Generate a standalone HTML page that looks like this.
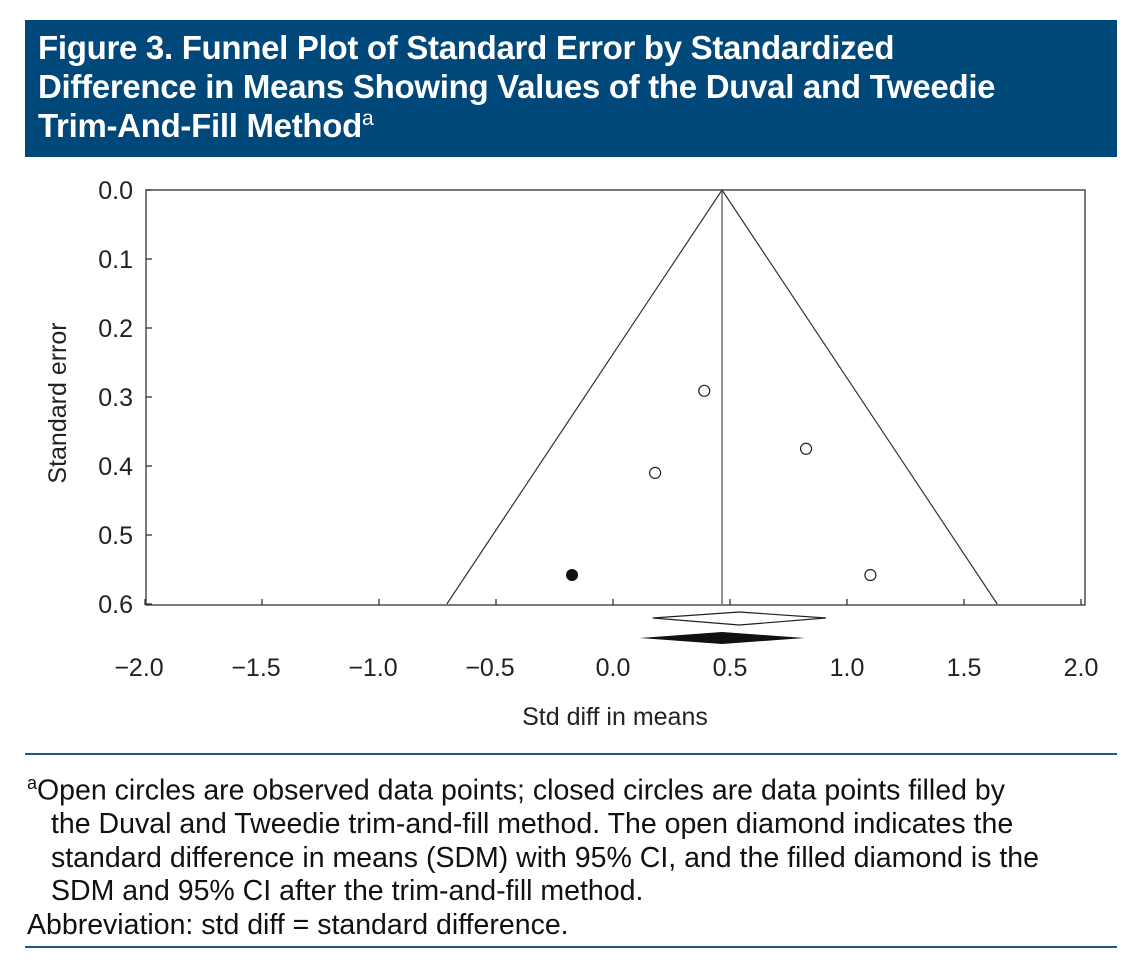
<!DOCTYPE html>
<html><head><meta charset="utf-8">
<style>
body{margin:0;width:1139px;height:964px;background:#fff;font-family:"Liberation Sans",sans-serif;position:relative;overflow:hidden}
#hdr{position:absolute;left:25px;top:20px;width:1092px;height:137px;background:#00477a;color:#fff;font-weight:bold;font-size:33px;line-height:39px;box-sizing:border-box;padding:8px 0 0 13px;white-space:nowrap;letter-spacing:-0.3px}
#hdr sup{font-size:21px;font-weight:normal;line-height:0}
.rule{position:absolute;left:25px;width:1092px;height:2px;background:#1d5a8c}
#foot{position:absolute;left:27px;top:767px;font-size:28.5px;line-height:33.5px;color:#111;white-space:nowrap}
#foot .ind{padding-left:24px}
</style></head><body>
<div id="hdr">Figure 3. Funnel Plot of Standard Error by Standardized<br>Difference in Means Showing Values of the Duval and Tweedie<br>Trim-And-Fill Method<sup>a</sup></div>
<svg id="chart" width="1139" height="740" style="position:absolute;left:0;top:0" font-family="Liberation Sans, sans-serif"></svg>
<div class="rule" style="top:753px"></div>
<div id="foot">
<div><sup style="font-size:18px">a</sup>Open circles are observed data points; closed circles are data points filled by</div>
<div class="ind">the Duval and Tweedie trim-and-fill method. The open diamond indicates the</div>
<div class="ind">standard difference in means (SDM) with 95% CI, and the filled diamond is the</div>
<div class="ind">SDM and 95% CI after the trim-and-fill method.</div>
<div>Abbreviation: std diff = standard difference.</div>
</div>
<div class="rule" style="top:946px"></div>
<script>
const xTicks=[-2.0,-1.5,-1.0,-0.5,0.0,0.5,1.0,1.5,2.0];
const yTicks=[0.0,0.1,0.2,0.3,0.4,0.5,0.6];
const obsX=[0.39,0.18,0.825,1.10];
const obsSE=[0.291,0.41,0.375,0.558];
const fillX=[-0.175];
const fillSE=[0.558];
const pooled=[0.466];
const openDiamond=[0.17,0.54,0.91];
const filledDiamond=[0.115,0.466,0.82];
const seMax=[0.6];

const NS="http://www.w3.org/2000/svg";
const svg=document.getElementById('chart');
const X=v=>613+v*234;
const Y=v=>190+v*690;
function mk(t,a){const e=document.createElementNS(NS,t);for(const k in a)e.setAttribute(k,a[k]);svg.appendChild(e);return e;}

const frame=mk('rect',{x:146,y:190,width:939,height:415,fill:'none',stroke:'#333','stroke-width':1.3});



xTicks.forEach(t=>{
  const l=mk('line',{x1:X(t),x2:X(t),y1:605,y2:599,stroke:'#333','stroke-width':1.3});
  
  
  const tx=mk('text',{x:X(t)+(t<0?-6:0),y:676,'text-anchor':'middle','font-size':25,fill:'#222'});
  tx.textContent=(t<0?'\u2212':'')+Math.abs(t).toFixed(1);
  
  
});
yTicks.forEach(t=>{
  const l=mk('line',{x1:146,x2:152,y1:Y(t),y2:Y(t),stroke:'#333','stroke-width':1.3});
  
  
  const tx=mk('text',{x:133,y:Y(t)+9,'text-anchor':'end','font-size':25,fill:'#222'});
  tx.textContent=t.toFixed(1);
  
  
});
const xt=mk('text',{x:615,y:725,'text-anchor':'middle','font-size':25,fill:'#222'});
xt.textContent='Std diff in means';


const yt=mk('text',{x:0,y:0,'text-anchor':'middle','font-size':25,fill:'#222',transform:'translate(66,403) rotate(-90)'});
yt.textContent='Standard error';



const c=pooled[0],m=seMax[0];
const fun=mk('polyline',{points:`${X(c-1.96*m)},${Y(m)} ${X(c)},${Y(0)} ${X(c+1.96*m)},${Y(m)}`,fill:'none',stroke:'#333','stroke-width':1.2});


const cl=mk('line',{x1:X(c),x2:X(c),y1:Y(0),y2:Y(m),stroke:'#555','stroke-width':1.3});



obsX.forEach((v,i)=>{
  const p=mk('circle',{cx:X(v),cy:Y(obsSE[i]),r:5.5,fill:'#fff',stroke:'#222','stroke-width':1.2});
  
  
});
fillX.forEach((v,i)=>{
  const p=mk('circle',{cx:X(v),cy:Y(fillSE[i]),r:6,fill:'#111'});
  
  
});
const d1=mk('polygon',{points:`${X(openDiamond[0])},618 ${X(openDiamond[1])},612 ${X(openDiamond[2])},618 ${X(openDiamond[1])},625`,fill:'#fff',stroke:'#222','stroke-width':1.2});


const d2=mk('polygon',{points:`${X(filledDiamond[0])},638 ${X(filledDiamond[1])},632 ${X(filledDiamond[2])},638 ${X(filledDiamond[1])},644`,fill:'#111'});


</script>
</body></html>
